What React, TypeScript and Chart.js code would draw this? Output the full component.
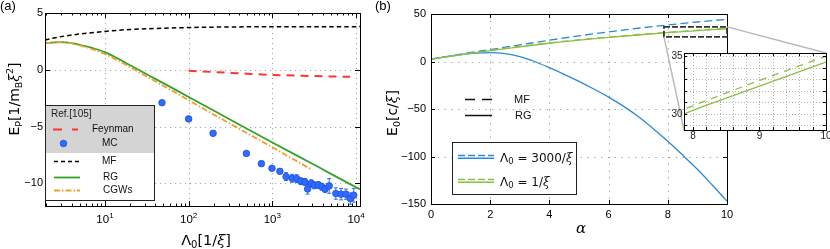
import React, { useEffect, useRef } from 'react';
import { Chart, registerables } from 'chart.js';
Chart.register(...registerables);

const W = 830, H = 249;
const SANS = '"Liberation Sans", Arial, sans-serif';
const DV = '"DejaVu Sans", sans-serif';
const SERIF = '"DejaVu Serif", serif';

// ---------- Panel (a) data ----------
const A_XMIN = 1.92, A_XMAX = 11160, A_YMIN = -12, A_YMAX = 5;
const LAMBDA_MF = [1.92, 3, 5, 10, 20, 50, 100, 300, 1000, 11160];
const E_MF = [2.63, 2.92, 3.15, 3.38, 3.55, 3.66, 3.72, 3.77, 3.79, 3.8];
const LAMBDA_RG = [1.92, 2.5, 3, 4, 5, 7, 10, 15, 20, 30, 40, 65, 100, 300, 1000, 3000, 10000, 11160];
const E_RG = [2.34, 2.41, 2.43, 2.35, 2.2, 1.92, 1.55, 0.9, 0.4, -0.3, -0.8, -1.64, -2.4, -4.31, -6.4, -8.28, -10.35, -10.53];
const LAMBDA_CGW = [1.92, 2.5, 3, 4, 5, 7, 10, 15, 20, 30, 40, 60, 100, 300, 1000, 3000];
const E_CGW = [2.34, 2.41, 2.42, 2.32, 2.15, 1.82, 1.38, 0.74, 0.22, -0.5, -1.02, -1.75, -2.68, -4.68, -6.82, -8.83];
const LAMBDA_FEYN = [100, 200, 500, 1000, 3000, 8500];
const E_FEYN = [-0.09, -0.2, -0.35, -0.45, -0.55, -0.62];
const LAMBDA_MC = [48, 100, 196, 490, 740, 990, 1230, 1460, 1720, 1950, 2190, 2450, 2640, 2920, 3170, 3550, 3900, 4270, 4780, 5740, 6630, 7580, 8540, 9400];
const E_MC = [-2.9, -4.33, -5.6, -7.37, -8.27, -8.68, -8.95, -9.41, -9.56, -9.59, -9.82, -9.88, -10.5, -10.0, -10.18, -10.15, -10.3, -10.5, -10.23, -10.9, -10.96, -10.96, -11.35, -11.05];
const ERR_MC = [0, 0, 0, 0, 0, 0, 0.15, 0.35, 0.35, 0.35, 0.3, 0.3, 0.45, 0.3, 0.3, 0.3, 0.3, 0.3, 0.65, 0.5, 0.5, 0.45, 0.5, 0.6];
const A_YTICKS = [5, 0, -5, -10];
const A_XDECADES = [1, 2, 3, 4];
const A_GRID_X = [10, 100, 1000, 10000];
const A_GRID_Y = [0, -5, -10];
const A_LEGEND = ['Feynman', 'MC', 'MF', 'RG', 'CGWs'];

// ---------- Panel (b) data ----------
const ALPHA = [0, 1, 2, 3, 4, 5, 6, 7, 8, 9, 10];
const E_MF_3000 = [2.5, 7.7, 12.6, 17.5, 22.4, 27.0, 31.2, 35.0, 38.5, 41.6, 44.4];
const E_MF_1 = [2.5, 7.2, 11.7, 15.8, 19.6, 22.9, 25.8, 28.4, 30.7, 32.9, 35.0];
const E_RG_1 = [2.5, 7.0, 11.4, 15.4, 19.2, 22.4, 25.3, 27.9, 30.3, 32.4, 34.5];
const ALPHA_FINE = [0, 0.5, 1, 1.5, 2, 2.5, 3, 3.5, 4, 4.5, 5, 5.5, 6, 6.5, 7, 7.5, 8, 8.5, 9, 9.5, 10];
const E_RG_3000 = [2.5, 5.0, 7.3, 8.9, 9.3, 8.2, 5.2, 0.0, -6.5, -13.5, -21, -29, -37.5, -47, -58, -70.5, -84, -98.5, -113.5, -130, -147];
const B_XTICKS = [0, 2, 4, 6, 8, 10];
const B_YTICKS = [50, 0, -50, -100, -150];
const B_GRID_X = [2, 4, 6, 8];
const B_GRID_Y = [0, -50, -100];
const ZOOM_X = [7.87, 10];
const ZOOM_Y = [26, 36.5];
const LEGEND_B = ['3000', '1'];

// ---------- Inset data ----------
const IN_XMIN = 7.865, IN_XMAX = 10, IN_YMIN = 28.6, IN_YMAX = 35.28;
const IN_XLABELS = [8, 9, 10];
const IN_YLABELS = [30, 35];
const IN_GRID_X = [8, 8.2, 8.4, 8.6, 8.8, 9, 9.2, 9.4, 9.6, 9.8];
const IN_GRID_Y = [29, 30, 31, 32, 33, 34, 35];

// ---------- colours ----------
const C_GREEN = '#34a32a';
const C_ORANGE = '#eea032';
const C_RED = '#ff3535';
const C_MC = '#2f6bff';
const C_MC_EDGE = '#1d4fd8';
const C_BLUE = '#2a8ad6';
const C_LGREEN = '#8cbf45';

type Seg = { t: string; size: number; dy?: number; fam?: string; it?: boolean };
const fontOf = (s: Seg) => `${s.it ? 'italic ' : ''}${s.size}px ${s.fam || DV}`;
function richW(ctx: CanvasRenderingContext2D, segs: Seg[]) {
  let w = 0;
  for (const s of segs) { ctx.font = fontOf(s); w += ctx.measureText(s.t).width; }
  return w;
}
function drawRich(ctx: CanvasRenderingContext2D, segs: Seg[], x: number, y: number, align: string) {
  const w = richW(ctx, segs);
  let cx = align === 'center' ? x - w / 2 : align === 'right' ? x - w : x;
  ctx.textAlign = 'left';
  ctx.textBaseline = 'alphabetic';
  for (const s of segs) {
    ctx.font = fontOf(s);
    ctx.fillText(s.t, cx, y + (s.dy || 0));
    cx += ctx.measureText(s.t).width;
  }
}
function line(ctx: CanvasRenderingContext2D, x1: number, y1: number, x2: number, y2: number) {
  ctx.beginPath(); ctx.moveTo(x1, y1); ctx.lineTo(x2, y2); ctx.stroke();
}
const crisp = (v: number) => Math.round(v) + 0.5;
const fmt = (v: number) => (v < 0 ? '\u2212' + Math.abs(v) : String(v));
const pts = (xs: number[], ys: number[]) => xs.map((x, i) => ({ x, y: ys[i] }));

function drawFrame(ctx: CanvasRenderingContext2D, a: any) {
  ctx.strokeStyle = '#000'; ctx.lineWidth = 1; ctx.setLineDash([]);
  ctx.strokeRect(crisp(a.left), crisp(a.top), Math.round(a.right - a.left), Math.round(a.bottom - a.top));
}
function drawGrid(ctx: CanvasRenderingContext2D, a: any, xs: number[], ys: number[], sx: any, sy: any, dash: number[], color: string) {
  ctx.save();
  ctx.strokeStyle = color; ctx.lineWidth = 1; ctx.setLineDash(dash);
  for (const v of xs) { const p = crisp(sx.getPixelForValue(v)); line(ctx, p, a.top, p, a.bottom); }
  for (const v of ys) { const p = crisp(sy.getPixelForValue(v)); line(ctx, a.left, p, a.right, p); }
  ctx.restore();
}
function xTicks(ctx: CanvasRenderingContext2D, a: any, sx: any, vals: number[], len: number) {
  ctx.strokeStyle = '#000'; ctx.lineWidth = 1; ctx.setLineDash([]);
  for (const v of vals) {
    const p = crisp(sx.getPixelForValue(v));
    if (p < a.left - 0.5 || p > a.right + 1) continue;
    line(ctx, p, a.bottom, p, a.bottom - len);
    line(ctx, p, a.top, p, a.top + len);
  }
}
function yTicks(ctx: CanvasRenderingContext2D, a: any, sy: any, vals: number[], len: number) {
  ctx.strokeStyle = '#000'; ctx.lineWidth = 1; ctx.setLineDash([]);
  for (const v of vals) {
    const p = crisp(sy.getPixelForValue(v));
    line(ctx, a.left, p, a.left + len, p);
    line(ctx, a.right, p, a.right - len, p);
  }
}

// ---------- Panel (a) plugin ----------
const plugA = {
  id: 'plugA',
  beforeDatasetsDraw(chart: any) {
    const { ctx, chartArea: a, scales: { x, y } } = chart;
    ctx.save();
    drawGrid(ctx, a, A_GRID_X, A_GRID_Y, x, y, [1.2, 3.8], '#a8a8a8');
    ctx.strokeStyle = C_MC; ctx.lineWidth = 1;
    LAMBDA_MC.forEach((l, i) => {
      const e = ERR_MC[i];
      if (!e) return;
      const px = x.getPixelForValue(l);
      const p1 = y.getPixelForValue(E_MC[i] + e), p2 = y.getPixelForValue(E_MC[i] - e);
      line(ctx, px, p1, px, p2);
      line(ctx, px - 2, p1, px + 2, p1);
      line(ctx, px - 2, p2, px + 2, p2);
    });
    ctx.restore();
  },
  afterDatasetsDraw(chart: any) {
    const { ctx, chartArea: a, scales: { x, y } } = chart;
    ctx.save();
    drawFrame(ctx, a);
    const major = A_XDECADES.map((d) => Math.pow(10, d));
    const minor: number[] = [];
    for (let d = 0; d <= 4; d++) for (let m = 2; m <= 9; m++) { const v = m * Math.pow(10, d); if (v > A_XMIN && v < A_XMAX) minor.push(v); }
    xTicks(ctx, a, x, major, 5);
    xTicks(ctx, a, x, minor, 2.5);
    yTicks(ctx, a, y, A_YTICKS, 5);
    ctx.restore();
  },
  afterDraw(chart: any) {
    const { ctx, scales: { x, y } } = chart;
    ctx.save();
    ctx.fillStyle = '#000';
    ctx.font = `11px ${SANS}`; ctx.textAlign = 'right'; ctx.textBaseline = 'middle';
    for (const v of A_YTICKS) ctx.fillText(fmt(v), 43, y.getPixelForValue(v));
    for (const d of A_XDECADES) {
      drawRich(ctx, [{ t: '10', size: 11.5, fam: SANS }, { t: String(d), size: 8, dy: -5.5, fam: SANS }], x.getPixelForValue(Math.pow(10, d)), 223, 'center');
    }
    ctx.font = `13px ${SANS}`; ctx.textAlign = 'left'; ctx.textBaseline = 'alphabetic';
    ctx.fillText('(a)', 0, 10);
    drawRich(ctx, [
      { t: '\u039b', size: 14.5 }, { t: '0', size: 10, dy: 3 }, { t: '[1/', size: 14.5 },
      { t: '\u03be', size: 14.5, fam: SERIF, it: true }, { t: ']', size: 14.5 },
    ], 206, 245, 'center');
    ctx.save();
    ctx.translate(18.5, 99); ctx.rotate(-Math.PI / 2);
    drawRich(ctx, [
      { t: 'E', size: 14 }, { t: 'P', size: 9.5, dy: 3 }, { t: '[1/m', size: 14 }, { t: 'B', size: 9.5, dy: 3 },
      { t: '\u03be', size: 14, fam: SERIF, it: true }, { t: '2', size: 9.5, dy: -6 }, { t: ']', size: 14 },
    ], 0, 0, 'center');
    ctx.restore();
    // legend
    ctx.fillStyle = '#d4d4d4'; ctx.fillRect(46, 105, 109, 48);
    ctx.fillStyle = '#fff'; ctx.fillRect(46, 153, 109, 47);
    ctx.strokeStyle = '#222'; ctx.lineWidth = 1; ctx.strokeRect(45.5, 105.5, 109, 95);
    ctx.fillStyle = '#222'; ctx.font = `10px ${SANS}`; ctx.textAlign = 'left'; ctx.textBaseline = 'alphabetic';
    ctx.fillText('Ref.[105]', 51, 117);
    const ys = [129.5, 143.5, 161.5, 177.5, 190.5];
    const xs = [92, 102, 102, 103, 103];
    ctx.lineWidth = 2; ctx.strokeStyle = C_RED; ctx.setLineDash([9, 10]); line(ctx, 53, ys[0], 78, ys[0]);
    ctx.setLineDash([]);
    ctx.fillStyle = C_MC; ctx.strokeStyle = C_MC_EDGE; ctx.lineWidth = 0.8;
    ctx.beginPath(); ctx.arc(63.5, ys[1], 3.3, 0, Math.PI * 2); ctx.fill(); ctx.stroke();
    ctx.lineWidth = 1.5; ctx.strokeStyle = '#000'; ctx.setLineDash([4, 3]); line(ctx, 54, ys[2], 80, ys[2]);
    ctx.lineWidth = 1.8; ctx.strokeStyle = C_GREEN; ctx.setLineDash([]); line(ctx, 54, ys[3], 80, ys[3]);
    ctx.strokeStyle = C_ORANGE; ctx.setLineDash([6, 2, 1.5, 2]); line(ctx, 54, ys[4], 80, ys[4]);
    ctx.setLineDash([]);
    ctx.fillStyle = '#111'; ctx.font = `10px ${SANS}`; ctx.textBaseline = 'middle';
    A_LEGEND.forEach((t, i) => ctx.fillText(t, xs[i], ys[i]));
    ctx.restore();
  },
};

// ---------- Panel (b) plugin ----------
const INSET = { left: 684, top: 53, right: 826, bottom: 130 };
const plugB = {
  id: 'plugB',
  beforeDatasetsDraw(chart: any) {
    const { ctx, chartArea: a, scales: { x, y } } = chart;
    drawGrid(ctx, a, B_GRID_X, B_GRID_Y, x, y, [1.3, 5.5], '#a0a0a0');
  },
  afterDatasetsDraw(chart: any) {
    const { ctx, chartArea: a, scales: { x, y } } = chart;
    ctx.save();
    drawFrame(ctx, a);
    xTicks(ctx, a, x, B_XTICKS, 4);
    yTicks(ctx, a, y, B_YTICKS, 4);
    const rx1 = x.getPixelForValue(ZOOM_X[0]), rx2 = x.getPixelForValue(ZOOM_X[1]);
    const ry1 = y.getPixelForValue(ZOOM_Y[1]), ry2 = y.getPixelForValue(ZOOM_Y[0]);
    ctx.strokeStyle = '#333'; ctx.lineWidth = 1.8; ctx.setLineDash([6, 2]);
    ctx.strokeRect(rx1, ry1, rx2 - rx1, ry2 - ry1);
    ctx.setLineDash([]);
    ctx.strokeStyle = '#b8b8b8'; ctx.lineWidth = 1.4;
    line(ctx, rx1, ry2, INSET.left, INSET.bottom);
    line(ctx, rx2, ry1, INSET.right, INSET.top);
    ctx.restore();
  },
  afterDraw(chart: any) {
    const { ctx, scales: { x, y } } = chart;
    ctx.save();
    ctx.fillStyle = '#000';
    ctx.font = `11px ${SANS}`; ctx.textAlign = 'right'; ctx.textBaseline = 'middle';
    for (const v of B_YTICKS) ctx.fillText(fmt(v), 426, y.getPixelForValue(v));
    ctx.textAlign = 'center';
    for (const v of B_XTICKS) ctx.fillText(String(v), x.getPixelForValue(v), 215);
    ctx.font = `13px ${SANS}`; ctx.textAlign = 'left'; ctx.textBaseline = 'alphabetic';
    ctx.fillText('(b)', 375, 10);
    drawRich(ctx, [{ t: '\u03b1', size: 15, fam: SERIF, it: true }], 581, 233, 'center');
    ctx.save();
    ctx.translate(397, 113); ctx.rotate(-Math.PI / 2);
    drawRich(ctx, [
      { t: 'E', size: 14 }, { t: '0', size: 9.5, dy: 3 }, { t: '[c/', size: 14 },
      { t: '\u03be', size: 14, fam: SERIF, it: true }, { t: ']', size: 14 },
    ], 0, 0, 'center');
    ctx.restore();
    ctx.strokeStyle = '#111'; ctx.lineWidth = 1.5;
    ctx.setLineDash([10, 7]); line(ctx, 465, 99.5, 492, 99.5);
    ctx.setLineDash([]); line(ctx, 465, 115.5, 492, 115.5);
    ctx.fillStyle = '#111'; ctx.font = `11px ${SANS}`; ctx.textBaseline = 'middle';
    ctx.fillText('MF', 514, 99.5);
    ctx.fillText('RG', 515, 115.5);
    ctx.fillStyle = '#fff'; ctx.fillRect(453, 143, 123, 51);
    ctx.strokeStyle = '#222'; ctx.lineWidth = 1; ctx.strokeRect(452.5, 142.5, 124, 52);
    const rows = [{ c: C_BLUE, y: 157 }, { c: C_LGREEN, y: 181 }];
    rows.forEach((r, i) => {
      ctx.strokeStyle = r.c; ctx.lineWidth = 1.5;
      ctx.setLineDash([7, 3]); line(ctx, 458, r.y - 1.5, 494, r.y - 1.5);
      ctx.setLineDash([]); line(ctx, 458, r.y + 1.2, 494, r.y + 1.2);
      ctx.fillStyle = '#111';
      drawRich(ctx, [
        { t: '\u039b', size: 12 }, { t: '0', size: 8.5, dy: 2.5 }, { t: ' = ' + LEGEND_B[i] + '/', size: 12 },
        { t: '\u03be', size: 12, fam: SERIF, it: true },
      ], 500, r.y + 4.5, 'left');
    });
    ctx.restore();
  },
};

// ---------- Inset plugin ----------
const plugIn = {
  id: 'plugIn',
  beforeDraw(chart: any) {
    const { ctx, chartArea: a } = chart;
    ctx.save(); ctx.fillStyle = '#fff'; ctx.fillRect(a.left, a.top, a.right - a.left, a.bottom - a.top); ctx.restore();
  },
  beforeDatasetsDraw(chart: any) {
    const { ctx, chartArea: a, scales: { x, y } } = chart;
    drawGrid(ctx, a, IN_GRID_X, IN_GRID_Y, x, y, [1, 2], '#b4b4b4');
  },
  afterDatasetsDraw(chart: any) {
    const { ctx, chartArea: a, scales: { x, y } } = chart;
    ctx.save();
    drawFrame(ctx, a);
    xTicks(ctx, a, x, IN_GRID_X, 3);
    yTicks(ctx, a, y, IN_GRID_Y, 3);
    ctx.fillStyle = '#222'; ctx.font = `10px ${SANS}`; ctx.textAlign = 'right'; ctx.textBaseline = 'middle';
    for (const v of IN_YLABELS) ctx.fillText(String(v), 682.5, y.getPixelForValue(v));
    ctx.textAlign = 'center';
    for (const v of IN_XLABELS) ctx.fillText(String(v), x.getPixelForValue(v), 136);
    ctx.restore();
  },
};

function baseOptions(pad: any, xs: any, ys: any) {
  return {
    animation: false as const,
    responsive: false,
    maintainAspectRatio: false,
    events: [] as any[],
    layout: { padding: pad },
    scales: { x: { ...xs, display: false }, y: { ...ys, display: false } },
    plugins: { legend: { display: false }, tooltip: { enabled: false } },
    elements: { point: { radius: 0 } },
  };
}

export default function App() {
  const ra = useRef<HTMLCanvasElement>(null);
  const rb = useRef<HTMLCanvasElement>(null);
  const rc = useRef<HTMLCanvasElement>(null);

  useEffect(() => {
    const mono = { cubicInterpolationMode: 'monotone' as const, pointRadius: 0 };
    const ca = new Chart(ra.current!, {
      type: 'line',
      data: {
        datasets: [
          { label: 'MC', data: pts(LAMBDA_MC, E_MC), showLine: false, pointRadius: 3.3, pointBackgroundColor: C_MC, pointBorderColor: C_MC_EDGE, pointBorderWidth: 0.8 } as any,
          { label: 'Feynman', data: pts(LAMBDA_FEYN, E_FEYN), borderColor: C_RED, borderWidth: 2, borderDash: [8, 6], ...mono },
          { label: 'MF', data: pts(LAMBDA_MF, E_MF), borderColor: '#000', borderWidth: 1.5, borderDash: [4.5, 3], ...mono },
          { label: 'CGWs', data: pts(LAMBDA_CGW, E_CGW), borderColor: C_ORANGE, borderWidth: 1.8, borderDash: [6, 2, 1.5, 2], ...mono },
          { label: 'RG', data: pts(LAMBDA_RG, E_RG), borderColor: C_GREEN, borderWidth: 1.8, ...mono },
        ],
      },
      options: baseOptions({ left: 45, top: 13, right: W - 360, bottom: H - 206 },
        { type: 'logarithmic', min: A_XMIN, max: A_XMAX }, { type: 'linear', min: A_YMIN, max: A_YMAX }) as any,
      plugins: [plugA],
    });
    const cb = new Chart(rb.current!, {
      type: 'line',
      data: {
        datasets: [
          { label: 'RG 1', data: pts(ALPHA, E_RG_1), borderColor: C_LGREEN, borderWidth: 1.3, ...mono },
          { label: 'MF 1', data: pts(ALPHA, E_MF_1), borderColor: C_LGREEN, borderWidth: 1.3, borderDash: [7, 5], ...mono },
          { label: 'MF 3000', data: pts(ALPHA, E_MF_3000), borderColor: C_BLUE, borderWidth: 1.3, borderDash: [8, 4], ...mono },
          { label: 'RG 3000', data: pts(ALPHA_FINE, E_RG_3000), borderColor: C_BLUE, borderWidth: 1.3, ...mono },
        ],
      },
      options: baseOptions({ left: 431, top: 14, right: W - 727, bottom: H - 204 },
        { type: 'linear', min: 0, max: 10 }, { type: 'linear', min: -150, max: 50 }) as any,
      plugins: [plugB],
    });
    const cc = new Chart(rc.current!, {
      type: 'line',
      data: {
        datasets: [
          { label: 'RG 1', data: pts(ALPHA, E_RG_1), borderColor: C_LGREEN, borderWidth: 1.3, ...mono },
          { label: 'MF 1', data: pts(ALPHA, E_MF_1), borderColor: C_LGREEN, borderWidth: 1.3, borderDash: [7, 6], ...mono },
        ],
      },
      options: baseOptions({ left: INSET.left, top: INSET.top, right: W - INSET.right, bottom: H - INSET.bottom },
        { type: 'linear', min: IN_XMIN, max: IN_XMAX }, { type: 'linear', min: IN_YMIN, max: IN_YMAX }) as any,
      plugins: [plugIn],
    });
    return () => { ca.destroy(); cb.destroy(); cc.destroy(); };
  }, []);

  const cs: React.CSSProperties = { position: 'absolute', left: 0, top: 0, width: W, height: H };
  return (
    <div style={{ position: 'fixed', left: 0, top: 0, width: W, height: H, background: '#fff' }}>
      <canvas ref={ra} width={W} height={H} style={cs} />
      <canvas ref={rb} width={W} height={H} style={cs} />
      <canvas ref={rc} width={W} height={H} style={cs} />
    </div>
  );
}
